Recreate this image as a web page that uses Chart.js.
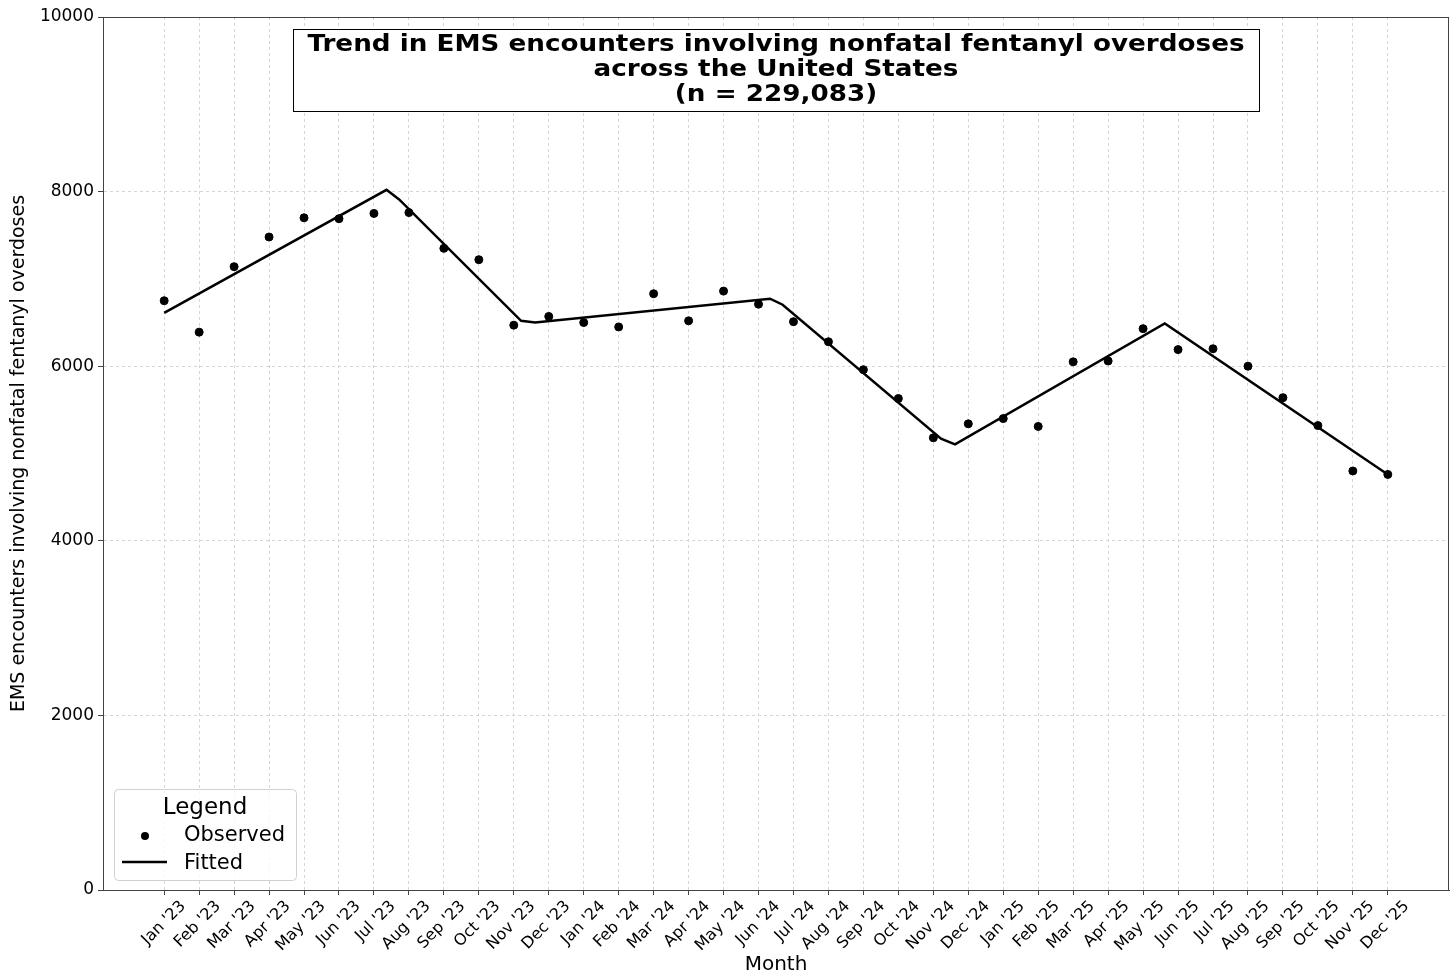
<!DOCTYPE html>
<html>
<head>
<meta charset="utf-8">
<script src="https://cdn.jsdelivr.net/npm/chart.js@4"></script>
<style>
  html, body { margin: 0; padding: 0; background: #fff; }
  #wrap { width: 1455px; height: 972px; }
</style>
</head>
<body>
<div id="wrap"><canvas id="trend-chart"></canvas></div>
<script>
// month labels on the x axis
const months = ["Jan '23", "Feb '23", "Mar '23", "Apr '23", "May '23", "Jun '23", "Jul '23", "Aug '23", "Sep '23", "Oct '23", "Nov '23", "Dec '23",
  "Jan '24", "Feb '24", "Mar '24", "Apr '24", "May '24", "Jun '24", "Jul '24", "Aug '24", "Sep '24", "Oct '24", "Nov '24", "Dec '24",
  "Jan '25", "Feb '25", "Mar '25", "Apr '25", "May '25", "Jun '25", "Jul '25", "Aug '25", "Sep '25", "Oct '25", "Nov '25", "Dec '25"];

// observed monthly counts
const observed = [6750, 6390, 7140, 7480, 7700, 7690, 7750, 7760, 7350, 7220, 6470, 6570,
  6500, 6450, 6830, 6520, 6860, 6710, 6510, 6280, 5960, 5630, 5180, 5340,
  5400, 5310, 6050, 6060, 6430, 6190, 6200, 6000, 5640, 5320, 4800, 4760];

// fitted joinpoint line (x = month index)
const fitX = [0, 6.36, 6.72, 10.21, 10.61, 17.33, 17.69, 22.22, 22.62, 28.62, 35];
const fitY = [6610, 8020, 7910, 6520, 6500, 6773, 6704, 5170, 5105, 6490, 4760];

const yTicks = [0, 2000, 4000, 6000, 8000, 10000];

const titleLines = ['Trend in EMS encounters involving nonfatal fentanyl overdoses', 'across the United States', '(n = 229,083)'];

const FONT = "'DejaVu Sans', sans-serif";

const decor = {
  id: 'decor',
  afterDraw(chart) {
    const ctx = chart.ctx;
    const a = chart.chartArea;
    ctx.save();

    // frame (all four spines)
    ctx.strokeStyle = '#444';
    ctx.lineWidth = 1;
    ctx.strokeRect(a.left + 0.5, a.top + 0.5, a.right - a.left - 1, a.bottom - a.top);

    // title box
    const cx = (a.left + a.right) / 2;
    ctx.fillStyle = '#fff';
    ctx.fillRect(cx - 483, a.top + 12, 966, 82);
    ctx.strokeStyle = '#000';
    ctx.strokeRect(cx - 483 + 0.5, a.top + 12 + 0.5, 966, 82);
    ctx.fillStyle = '#000';
    ctx.font = 'bold 23px ' + FONT;
    ctx.textAlign = 'center';
    ctx.textBaseline = 'middle';
    titleLines.forEach((t, i) => {
      ctx.save();
      ctx.translate(cx, a.top + 28 + i * 25);
      ctx.scale(1.14, 1);
      ctx.fillText(t, 0, 0);
      ctx.restore();
    });

    // legend box
    const lx = a.left + 11, ly = a.bottom - 101, lw = 182, lh = 91;
    ctx.beginPath();
    ctx.roundRect(lx + 0.5, ly + 0.5, lw, lh, 4);
    ctx.fillStyle = 'rgba(255,255,255,0.8)';
    ctx.fill();
    ctx.strokeStyle = '#d0d0d0';
    ctx.stroke();
    ctx.fillStyle = '#000';
    ctx.font = '23px ' + FONT;
    ctx.textAlign = 'center';
    ctx.fillText('Legend', lx + 91, ly + 19);
    ctx.font = '21px ' + FONT;
    ctx.textAlign = 'left';
    ctx.fillText('Observed', lx + 70, ly + 47);
    ctx.fillText('Fitted', lx + 70, ly + 75);
    ctx.beginPath();
    ctx.arc(lx + 31, ly + 47, 4, 0, Math.PI * 2);
    ctx.fill();
    ctx.beginPath();
    ctx.moveTo(lx + 8, ly + 73);
    ctx.lineTo(lx + 53, ly + 73);
    ctx.lineWidth = 2.5;
    ctx.strokeStyle = '#000';
    ctx.stroke();
    ctx.restore();
  }
};

const trend = document.getElementById('trend-chart');
new Chart(trend, {
  type: 'scatter',
  data: {
    datasets: [
      {
        label: 'Fitted',
        type: 'line',
        data: fitX.map((x, i) => ({ x: x, y: fitY[i] })),
        borderColor: '#000',
        borderWidth: 2.5,
        pointRadius: 0,
        fill: false,
        tension: 0
      },
      {
        label: 'Observed',
        data: observed.map((v, i) => ({ x: i, y: v })),
        backgroundColor: '#000',
        borderColor: '#000',
        pointRadius: 4,
        pointHoverRadius: 4
      }
    ]
  },
  options: {
    responsive: true,
    maintainAspectRatio: false,
    animation: false,
    events: [],
    layout: { padding: { top: 17, right: 6, left: 0, bottom: 0 } },
    scales: {
      x: {
        type: 'linear',
        min: -1.75,
        max: 36.75,
        afterBuildTicks: (s) => { s.ticks = months.map((m, i) => ({ value: i })); },
        afterFit: (s) => { s.height = 82; },
        ticks: {
          callback: (v) => months[v],
          autoSkip: false,
          minRotation: 45,
          maxRotation: 45,
          labelOffset: 19,
          color: '#000',
          padding: 2,
          font: { family: FONT, size: 16 }
        },
        grid: { color: '#d6d6d6', tickColor: '#444', tickLength: 5, tickBorderDash: [] },
        border: { color: '#444', dash: [3, 3] },
        title: {
          display: true,
          text: 'Month',
          color: '#000',
          padding: { top: 0, bottom: -5 },
          font: { family: FONT, size: 20 }
        }
      },
      y: {
        min: 0,
        max: 10000,
        afterBuildTicks: (s) => { s.ticks = yTicks.map((v) => ({ value: v })); },
        afterFit: (s) => { s.width = 103; },
        ticks: {
          callback: (v) => String(v),
          color: '#000',
          padding: 4,
          font: { family: FONT, size: 17 }
        },
        grid: { color: '#d6d6d6', tickColor: '#444', tickLength: 5, tickBorderDash: [] },
        border: { color: '#444', dash: [3, 3] },
        title: {
          display: true,
          text: 'EMS encounters involving nonfatal fentanyl overdoses',
          color: '#000',
          padding: { top: 8, bottom: 0 },
          font: { family: FONT, size: 19 }
        }
      }
    },
    plugins: {
      legend: { display: false },
      tooltip: { enabled: false }
    }
  },
  plugins: [decor]
});
</script>
</body>
</html>
